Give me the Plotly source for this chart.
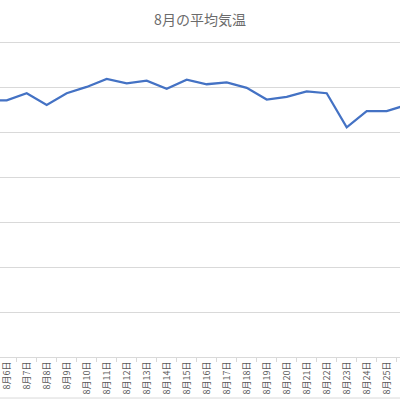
import plotly.graph_objects as go

# Data: 8月の平均気温 (visible part of the chart)
days = ["8月5日", "8月6日", "8月7日", "8月8日", "8月9日", "8月10日", "8月11日",
        "8月12日", "8月13日", "8月14日", "8月15日", "8月16日", "8月17日",
        "8月18日", "8月19日", "8月20日", "8月21日", "8月22日", "8月23日",
        "8月24日", "8月25日", "8月26日"]
temps = [28.6, 28.6, 29.4, 28.1, 29.4, 30.1, 31.0, 30.5, 30.8, 29.9, 30.9,
         30.4, 30.6, 30.0, 28.7, 29.0, 29.6, 29.4, 25.6, 27.4, 27.4, 28.1]
y_ticks = [0, 5, 10, 15, 20, 25, 30, 35]

fig = go.Figure()

fig.add_trace(go.Scatter(
    x=days,
    y=temps,
    mode="lines",
    line=dict(color="#4472C4", width=2.25),
    showlegend=False
))

fig.update_layout(
    title=dict(text="8月の平均気温", x=0.5, xanchor="center", y=0.95, yanchor="middle",
               font=dict(family="Noto Sans CJK JP", size=14, color="#6b6b6b")),
    width=400,
    height=400,
    margin=dict(l=0, r=0, t=34, b=43),
    paper_bgcolor="white",
    plot_bgcolor="white",
    font=dict(family="Noto Sans CJK JP", color="#595959")
)

fig.update_xaxes(
    type="category",
    range=[0.665, 20.665],
    tickangle=-90,
    tickfont=dict(size=9, color="#595959"),
    ticks="outside",
    tickson="boundaries",
    ticklen=4,
    tickcolor="#D9D9D9",
    showline=True,
    linecolor="#D9D9D9",
    showgrid=False
)

fig.update_yaxes(
    range=[0, 36],
    tickvals=y_ticks,
    showticklabels=False,
    showgrid=True,
    gridcolor="#D9D9D9",
    gridwidth=1,
    zeroline=False
)

# faint chart border at the bottom edge
fig.add_shape(type="line", xref="paper", yref="paper", x0=0, x1=1,
              y0=-0.127, y1=-0.127, line=dict(color="#D9D9D9", width=1))

# drop the default page margin so the 400x400 figure fills the window
fig.write_html("out.html", config={"displayModeBar": False},
               post_script="document.body.style.margin='0';")
